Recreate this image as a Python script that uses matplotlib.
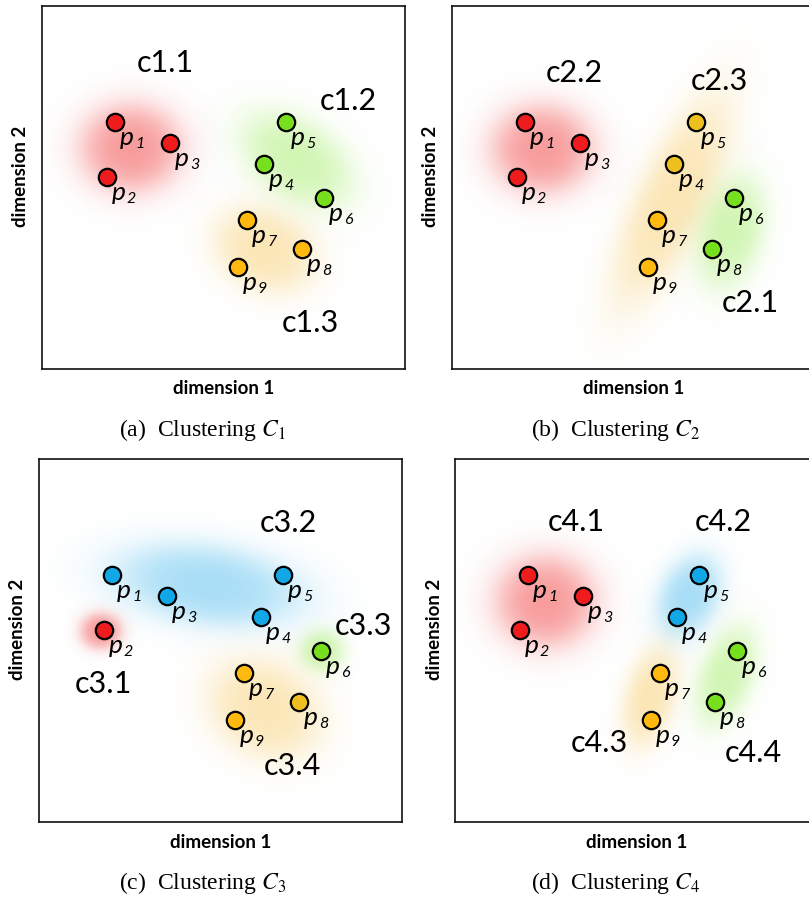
import numpy as np
import matplotlib
matplotlib.use("Agg")
import matplotlib.pyplot as plt
from matplotlib.transforms import offset_copy
from matplotlib.colors import to_rgb

plt.rcParams["mathtext.fontset"] = "stix"

# --- data -------------------------------------------------------------
point_ids = [1, 2, 3, 4, 5, 6, 7, 8, 9]
point_x = [2.01, 1.79, 3.53, 6.12, 6.72, 7.77, 5.65, 7.16, 5.40]
point_y = [6.80, 5.29, 6.23, 5.65, 6.80, 4.71, 4.10, 3.31, 2.81]

# colour of every point under each clustering
colors_c1 = ["red", "red", "red", "green", "green", "green", "orange", "orange", "orange"]
colors_c2 = ["red", "red", "red", "gold", "gold", "green", "orange", "green", "orange"]
colors_c3 = ["blue", "red", "blue", "blue", "blue", "green", "orange", "gold", "orange"]
colors_c4 = ["red", "red", "red", "blue", "blue", "green", "orange", "green", "orange"]

# cluster names and the baseline anchor of each name
names_c1 = ["c1.1", "c1.2", "c1.3"]
name_pos_c1 = [(3.39, 8.18), (8.43, 7.13), (7.38, 1.01)]
names_c2 = ["c2.2", "c2.3", "c2.1"]
name_pos_c2 = [(3.36, 7.90), (7.36, 7.68), (8.21, 1.57)]
names_c3 = ["c3.2", "c3.3", "c3.1", "c3.4"]
name_pos_c3 = [(6.86, 7.98), (8.95, 5.15), (1.76, 3.55), (6.97, 1.29)]
names_c4 = ["c4.1", "c4.2", "c4.3", "c4.4"]
name_pos_c4 = [(3.33, 8.01), (7.38, 8.01), (3.97, 1.92), (8.21, 1.65)]

# soft cluster regions: colour, centre x, centre y, half-width, half-height, angle
regions_c1 = [("red", 2.45, 6.09, 1.90, 1.65, 0),
              ("green", 7.02, 5.76, 2.30, 1.45, -35),
              ("orange", 6.14, 3.28, 1.95, 1.50, -25)]
regions_c2 = [("red", 2.48, 6.06, 1.90, 1.65, 0),
              ("orange", 6.06, 4.66, 4.20, 1.35, 65),
              ("green", 7.69, 3.77, 2.10, 1.20, 75)]
regions_c3 = [("blue", 4.66, 6.53, 3.50, 1.50, -8),
              ("red", 1.70, 5.26, 0.78, 0.68, 0),
              ("green", 7.80, 4.71, 0.85, 0.80, 0),
              ("orange", 6.23, 3.11, 2.20, 1.75, -30)]
regions_c4 = [("red", 2.49, 6.08, 1.88, 1.72, 0),
              ("blue", 6.45, 6.23, 1.60, 1.10, 65),
              ("orange", 5.37, 3.44, 1.90, 0.95, 75),
              ("green", 7.48, 4.02, 1.90, 1.00, 70)]

captions = ["(a)", "(b)", "(c)", "(d)"]
caption_math = [r"$C_1$", r"$C_2$", r"$C_3$", r"$C_4$"]

# --- styles -----------------------------------------------------------
POINT_COLORS = {"red": "#ee1c1c", "green": "#77e01e", "orange": "#ffb90f",
                "gold": "#edc020", "blue": "#12a8e8"}
REGION_COLORS = {"red": "#f02828", "green": "#7ee62a", "orange": "#f4b423",
                 "blue": "#20aaea"}
REGION_ALPHA = {"red": 0.47, "green": 0.36, "orange": 0.34, "blue": 0.40}

W, H = 809, 900
fig = plt.figure(figsize=(W / 100, H / 100), dpi=100)

BOX = 363
panel_boxes = [(42, 6), (452, 6), (39, 459), (455, 459)]   # left, top in pixels
caption_xy = [(202, 430), (616, 430), (203, 883), (616, 883)]

panels = [
    (colors_c1, names_c1, name_pos_c1, regions_c1),
    (colors_c2, names_c2, name_pos_c2, regions_c2),
    (colors_c3, names_c3, name_pos_c3, regions_c3),
    (colors_c4, names_c4, name_pos_c4, regions_c4),
]

gx = np.linspace(0, 10, 500)
GX, GY = np.meshgrid(gx, gx)


def draw_region(ax, key, cx, cy, a, b, ang):
    t = np.deg2rad(ang)
    dx, dy = GX - cx, GY - cy
    u = dx * np.cos(t) + dy * np.sin(t)
    v = -dx * np.sin(t) + dy * np.cos(t)
    r = np.sqrt((u / a) ** 2 + (v / b) ** 2)
    alpha = REGION_ALPHA[key] / (1 + np.exp((r - 0.66) / 0.16))
    img = np.zeros(GX.shape + (4,))
    img[..., :3] = to_rgb(REGION_COLORS[key])
    img[..., 3] = alpha
    ax.imshow(img, extent=(0, 10, 0, 10), origin="lower", zorder=1,
              interpolation="bilinear", aspect="auto")


for i, (cols, names, npos, regions) in enumerate(panels):
    left, top = panel_boxes[i]
    ax = fig.add_axes([left / W, (H - top - BOX) / H, BOX / W, BOX / H])
    ax.set_xlim(0, 10)
    ax.set_ylim(0, 10)
    ax.set_xticks([])
    ax.set_yticks([])
    for s in ax.spines.values():
        s.set_linewidth(1.2)
        s.set_color("#111111")

    for reg in regions:
        draw_region(ax, *reg)

    for pid, x, y, c in zip(point_ids, point_x, point_y, cols):
        ax.plot(x, y, "o", ms=12.5, mfc=POINT_COLORS[c], mec="black", mew=1.6,
                zorder=3)
        ax.annotate("p", (x, y), xytext=(5, -23), textcoords="offset pixels",
                    ha="left", va="baseline", fontsize=19, fontfamily="Lato",
                    fontstyle="italic", zorder=4)
        ax.annotate(str(pid), (x, y), xytext=(20, -26), textcoords="offset pixels",
                    ha="left", va="baseline", fontsize=11.5, fontfamily="Lato",
                    fontstyle="italic", zorder=4)

    for name, (nx, ny) in zip(names, npos):
        ax.text(nx, ny, name, ha="center", va="baseline", fontsize=22,
                fontfamily="Lato", zorder=4)

    ax.text(0.5, 0, "dimension 1",
            transform=offset_copy(ax.transAxes, fig, x=0, y=-20, units="dots"),
            ha="center", va="center", fontsize=13.5, fontfamily="Lato",
            fontweight="bold")
    ax.text(0, 0.53, "dimension 2",
            transform=offset_copy(ax.transAxes, fig, x=-21, y=0, units="dots"),
            ha="center", va="center", rotation=90, fontsize=13.5,
            fontfamily="Lato", fontweight="bold")

    cxp, cyp = caption_xy[i]
    fig.text(cxp / W, 1 - cyp / H,
             captions[i] + "  Clustering " + caption_math[i],
             ha="center", va="center", fontsize=17,
             fontfamily="Liberation Serif")

fig.savefig("out.png", dpi=100)
